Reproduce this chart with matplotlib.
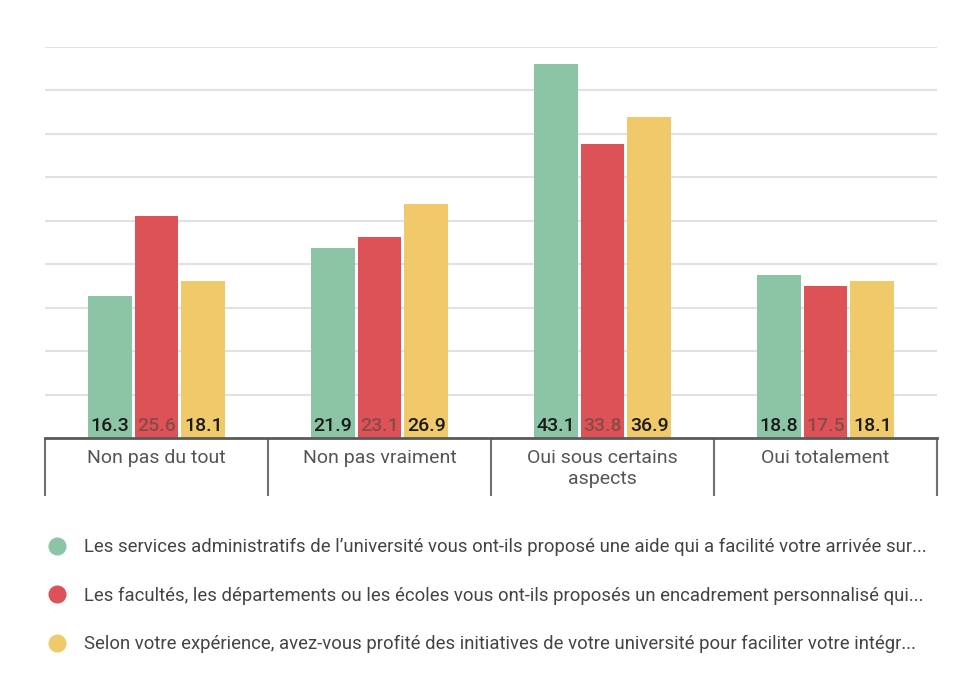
import numpy as np
import matplotlib
matplotlib.use("Agg")
import matplotlib.pyplot as plt
from matplotlib.lines import Line2D

plt.rcParams['font.family'] = ['Roboto', 'DejaVu Sans']

categories = ["Non pas du tout", "Non pas vraiment", "Oui sous certains\naspects", "Oui totalement"]
series_names = [
    "Les services administratifs de l\u2019universit\u00e9 vous ont-ils propos\u00e9 une aide qui a facilit\u00e9 votre arriv\u00e9e sur...",
    "Les facult\u00e9s, les d\u00e9partements ou les \u00e9coles vous ont-ils propos\u00e9s un encadrement personnalis\u00e9 qui...",
    "Selon votre exp\u00e9rience, avez-vous profit\u00e9 des initiatives de votre universit\u00e9 pour faciliter votre int\u00e9gr...",
]
services = [16.3, 21.9, 43.1, 18.8]
facultes = [25.6, 23.1, 33.8, 17.5]
experience = [18.1, 26.9, 36.9, 18.1]

colors = ["#8cc5a6", "#dc5256", "#f0ca6a"]
label_colors = ["#1a1a1a", "#8a4a4a", "#1a1a1a"]

fig = plt.figure(figsize=(9.74, 6.86), dpi=100)
ax = fig.add_axes([0.0462, 0.3615, 0.9158, 0.570])

x = np.arange(len(categories))
width = 0.196
offsets = [-0.21, 0, 0.21]
for vals, off, c, lc in zip([services, facultes, experience], offsets, colors, label_colors):
    ax.bar(x + off, vals, width, color=c, zorder=2)
    for xi, v in zip(x, vals):
        ax.text(xi + off, 0.4, f"{v:.1f}", ha='center', va='bottom',
                fontsize=14, fontweight='medium', color=lc, zorder=3)

ax.set_xlim(-0.5, 3.5)
ax.set_ylim(0, 45)
ax.set_yticks(np.arange(5, 46, 5))
ax.yaxis.grid(True, color='#e2e2e2', linewidth=1.5, zorder=0)
ax.tick_params(axis='y', length=0, labelleft=False)
for s in ['top', 'right', 'left']:
    ax.spines[s].set_visible(False)
ax.spines['bottom'].set_color('#5a5a5a')
ax.spines['bottom'].set_linewidth(2)

ax.set_xticks(x)
ax.set_xticklabels(categories, fontsize=14, color='#555555', linespacing=1.2)
ax.tick_params(axis='x', length=0, pad=8)
ax.set_xticks(np.arange(-0.5, 4, 1), minor=True)
ax.tick_params(axis='x', which='minor', length=42, width=1.5, color='#707070', direction='out')

handles = [Line2D([], [], marker='o', ls='', markersize=12, color=c) for c in colors]
leg = fig.legend(handles, series_names, loc='upper left', bbox_to_anchor=(0.032, 0.240),
                 frameon=False, labelspacing=1.65, handletextpad=0.95,
                 handlelength=1.0, prop={'family': ['Roboto'], 'size': 13.3})
for t in leg.get_texts():
    t.set_color('#444444')

fig.savefig("out.png", dpi=100, facecolor='white')
